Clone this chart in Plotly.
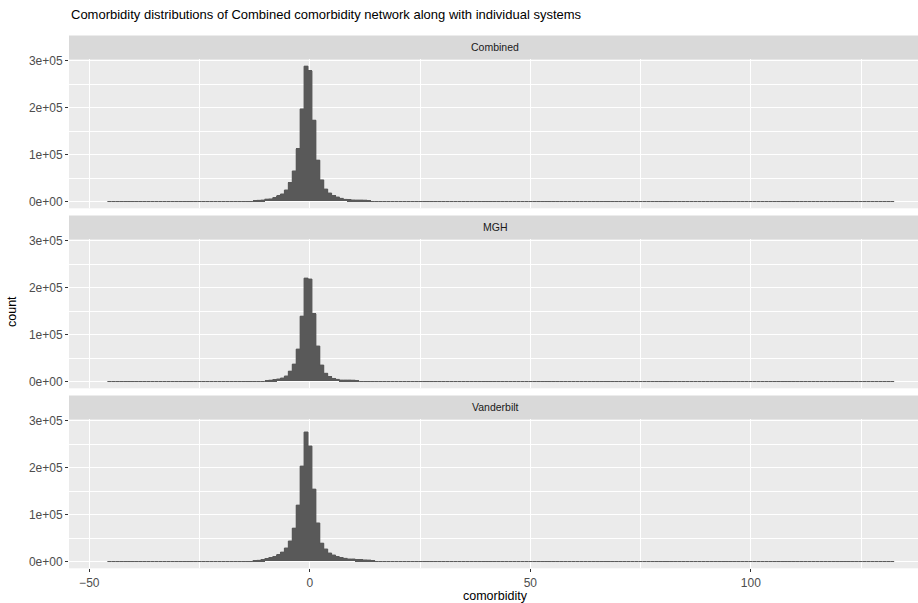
import plotly.graph_objects as go

# Histogram binning (200 equal-width bins spanning the comorbidity range)
BIN_START = -45.9
BIN_WIDTH = 0.892
N_BINS = 200
FIRST_BIN = 37  # index of the first bin listed in each count series

systems = ["Combined", "MGH", "Vanderbilt"]

counts_combined = [500, 2500, 3000, 5000, 5500, 8000, 12000, 16000, 24500, 40000,
                   65000, 112000, 197000, 288000, 278000, 173000, 88000, 46000,
                   26500, 18000, 12500, 9500, 6700, 4500, 4000, 3200, 3000, 3000,
                   2800, 500, 0]
counts_mgh = [0, 0, 0, 500, 2800, 3900, 5300, 7400, 11700, 22000,
              37000, 69000, 139000, 220000, 218000, 144000, 75500, 35000,
              17500, 10500, 6500, 4500, 3000, 3000, 3000, 2800, 500, 0, 0, 0, 0]
counts_vanderbilt = [2000, 2500, 3900, 6000, 8200, 10300, 14500, 20000, 28700, 43600,
                     71000, 120000, 203000, 275500, 245700, 154000, 82000, 39000,
                     26600, 18000, 13800, 10300, 8200, 6700, 5300, 5300, 3800, 3500,
                     3300, 3000, 1500]

series = [counts_combined, counts_mgh, counts_vanderbilt]

x_ticks = [-50, 0, 50, 100]
x_ticktext = ["\u221250", "0", "50", "100"]
x_minor = [-25, 25, 75, 125]
y_ticks = [0, 100000, 200000, 300000]
y_ticktext = ["0e+00", "1e+05", "2e+05", "3e+05"]
y_minor = [50000, 150000, 250000]

W, H = 918, 603
FONT = "Liberation Sans, Arial, Helvetica, sans-serif"
BAR = "#595959"
PANEL_BG = "#EBEBEB"
STRIP_BG = "#D9D9D9"

# pixel layout of the facet panels (top, bottom)
panels_px = [(59.4, 208.3), (239.4, 388.3), (419.4, 568.3)]
STRIP_H = 24
LEFT_PX = 69


def py(p):
    return 1 - p / H


def full_counts(vals):
    full = [0] * N_BINS
    for i, v in enumerate(vals):
        full[FIRST_BIN + i] = v
    return full


edges = [BIN_START + i * BIN_WIDTH for i in range(N_BINS + 1)]
centers = [BIN_START + (i + 0.5) * BIN_WIDTH for i in range(N_BINS)]

# x range: panel spans pixel 69 -> 918 with 0 at ~309.7 px, 4.41 px per unit
x_range = [-54.6, 137.9]
y_range = [-14400, 302400]

fig = go.Figure()
shapes = []
annotations = []

for k, (name, vals) in enumerate(zip(systems, series)):
    idx = "" if k == 0 else str(k + 1)
    counts = full_counts(vals)
    fig.add_trace(go.Bar(
        x=centers, y=counts, width=BIN_WIDTH,
        marker=dict(color=BAR, line=dict(width=0)),
        xaxis="x" + idx, yaxis="y" + idx, showlegend=False, hoverinfo="skip",
    ))
    # outline of the histogram, also showing the empty bins along the baseline
    fig.add_trace(go.Scatter(
        x=edges, y=counts + [counts[-1]], mode="lines",
        line=dict(color=BAR, width=1, shape="hv"),
        xaxis="x" + idx, yaxis="y" + idx, showlegend=False, hoverinfo="skip",
    ))
    top, bot = panels_px[k]
    bottom_axis = k == 2
    fig.layout["xaxis" + idx] = dict(
        domain=[LEFT_PX / W, 1], range=x_range, anchor="y" + idx,
        tickmode="array", tickvals=x_ticks, ticktext=x_ticktext,
        showticklabels=bottom_axis, ticks="outside" if bottom_axis else "",
        ticklen=3, tickwidth=1, tickcolor="#333333",
        tickfont=dict(family=FONT, size=12, color="#4D4D4D"),
        showgrid=True, gridcolor="white", gridwidth=1.2,
        minor=dict(tickmode="array", tickvals=x_minor, showgrid=True,
                   gridcolor="white", gridwidth=0.6, ticks=""),
        zeroline=False, showline=False, fixedrange=True, automargin=False,
    )
    fig.layout["yaxis" + idx] = dict(
        domain=[py(bot), py(top)], range=y_range, anchor="x" + idx,
        tickmode="array", tickvals=y_ticks, ticktext=y_ticktext,
        ticks="outside", ticklen=3, tickwidth=1, tickcolor="#333333",
        tickfont=dict(family=FONT, size=12, color="#4D4D4D"),
        showgrid=True, gridcolor="white", gridwidth=1.2,
        minor=dict(tickmode="array", tickvals=y_minor, showgrid=True,
                   gridcolor="white", gridwidth=0.6, ticks=""),
        zeroline=False, showline=False, fixedrange=True, automargin=False,
    )
    # facet strip
    shapes.append(dict(type="rect", xref="paper", yref="paper",
                       x0=LEFT_PX / W, x1=1, y0=py(top), y1=py(top - STRIP_H),
                       fillcolor=STRIP_BG, line=dict(width=0), layer="below"))
    annotations.append(dict(text=name, xref="paper", yref="paper",
                            x=495 / W, y=py(top - STRIP_H / 2),
                            xanchor="center", yanchor="middle", showarrow=False,
                            font=dict(family=FONT, size=10.5, color="#1A1A1A")))

annotations.append(dict(
    text="Comorbidity distributions of Combined comorbidity network along with individual systems",
    xref="paper", yref="paper", x=LEFT_PX / W, y=py(15), xanchor="left", yanchor="middle",
    showarrow=False, font=dict(family=FONT, size=13, color="black")))
annotations.append(dict(
    text="comorbidity", xref="paper", yref="paper", x=495 / W, y=py(596),
    xanchor="center", yanchor="middle", showarrow=False,
    font=dict(family=FONT, size=12.5, color="black")))
annotations.append(dict(
    text="count", xref="paper", yref="paper", x=12 / W, y=py(312),
    xanchor="center", yanchor="middle", textangle=-90, showarrow=False,
    font=dict(family=FONT, size=12.5, color="black")))

fig.update_layout(
    width=W, height=H, margin=dict(l=0, r=0, t=0, b=0, autoexpand=False),
    paper_bgcolor="white", plot_bgcolor=PANEL_BG,
    bargap=0, barmode="overlay",
    shapes=shapes, annotations=annotations,
    font=dict(family=FONT),
)

fig.write_html("out.html")
